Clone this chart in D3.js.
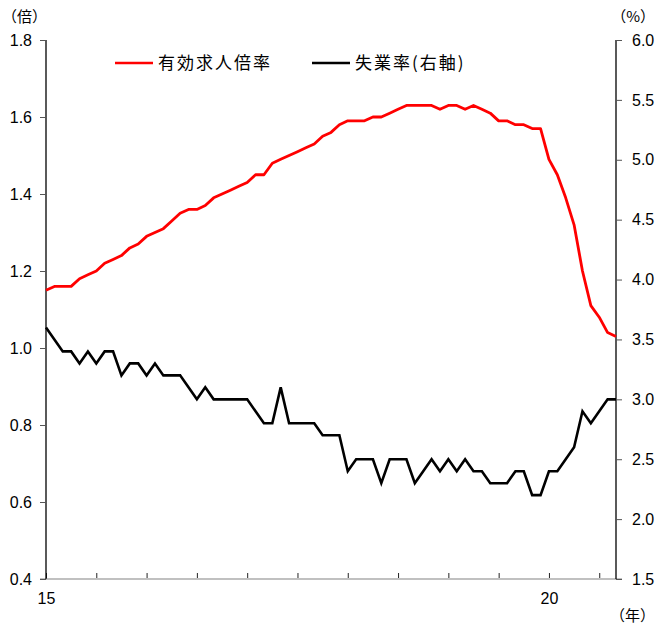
<!DOCTYPE html>
<html>
<head>
<meta charset="utf-8">
<script src="https://cdn.jsdelivr.net/npm/d3@7"></script>
<style>
  body { margin: 0; background: #fff; }
  svg { display: block; }
  .jp { font-family: "Noto Sans CJK JP", sans-serif; }
  .num { font-family: "Liberation Sans", Arial, sans-serif; }
</style>
</head>
<body>
<svg id="chart" width="655" height="632"></svg>
<script>
// ---- Data (monthly, Jan 2015 – Sep 2020) ----
const years = [2015, 2016, 2017, 2018, 2019, 2020];
const months = [];
years.forEach(y => { for (let m = 1; m <= 12; m++) { if (y === 2020 && m > 9) break; months.push(y + "-" + String(m).padStart(2, "0")); } });

// 有効求人倍率 (left axis, 倍)
const jobRatio = [
  1.15, 1.16, 1.16, 1.16, 1.18, 1.19, 1.20, 1.22, 1.23, 1.24, 1.26, 1.27,
  1.29, 1.30, 1.31, 1.33, 1.35, 1.36, 1.36, 1.37, 1.39, 1.40, 1.41, 1.42,
  1.43, 1.45, 1.45, 1.48, 1.49, 1.50, 1.51, 1.52, 1.53, 1.55, 1.56, 1.58,
  1.59, 1.59, 1.59, 1.60, 1.60, 1.61, 1.62, 1.63, 1.63, 1.63, 1.63, 1.62,
  1.63, 1.63, 1.62, 1.63, 1.62, 1.61, 1.59, 1.59, 1.58, 1.58, 1.57, 1.57,
  1.49, 1.45, 1.39, 1.32, 1.20, 1.11, 1.08, 1.04, 1.03
];
// 失業率 (right axis, %)
const unemployment = [
  3.6, 3.5, 3.4, 3.4, 3.3, 3.4, 3.3, 3.4, 3.4, 3.2, 3.3, 3.3,
  3.2, 3.3, 3.2, 3.2, 3.2, 3.1, 3.0, 3.1, 3.0, 3.0, 3.0, 3.0,
  3.0, 2.9, 2.8, 2.8, 3.1, 2.8, 2.8, 2.8, 2.8, 2.7, 2.7, 2.7,
  2.4, 2.5, 2.5, 2.5, 2.3, 2.5, 2.5, 2.5, 2.3, 2.4, 2.5, 2.4,
  2.5, 2.4, 2.5, 2.4, 2.4, 2.3, 2.3, 2.3, 2.4, 2.4, 2.2, 2.2,
  2.4, 2.4, 2.5, 2.6, 2.9, 2.8, 2.9, 3.0, 3.0
];

const leftTicks = [0.4, 0.6, 0.8, 1.0, 1.2, 1.4, 1.6, 1.8];
const rightTicks = [1.5, 2.0, 2.5, 3.0, 3.5, 4.0, 4.5, 5.0, 5.5, 6.0];
const xTickMonths = months.filter(m => m.endsWith("-01") || m.endsWith("-07"));
const xTickLabels = { "2015-01": "15", "2020-01": "20" };
const seriesNames = ["有効求人倍率", "失業率(右軸)"];
const seriesColors = ["#ff0000", "#000000"];

// ---- Layout ----
const L = 46, R = 616, T = 40, B = 579;
const svg = d3.select("#chart");

const x = d3.scalePoint().domain(months).range([L, R]);
const yL = d3.scaleLinear().domain([0.4, 1.8]).range([B, T]);
const yR = d3.scaleLinear().domain([1.5, 6.0]).range([B, T]);

// X axis (gray baseline, inward ticks)
const xAxis = svg.append("g").attr("transform", `translate(0,${B})`)
  .call(d3.axisBottom(x).tickValues(xTickMonths).tickSize(-6).tickPadding(14)
    .tickFormat(d => xTickLabels[d] || ""));
xAxis.select(".domain").remove();
xAxis.selectAll(".tick line").attr("stroke", "#222").attr("stroke-width", 1);
xAxis.selectAll(".tick text").attr("class", "num").attr("font-size", 16).attr("fill", "#000");
svg.append("line").attr("x1", L - 6).attr("x2", R + 6).attr("y1", B).attr("y2", B)
  .attr("stroke", "#c0c0c0").attr("stroke-width", 2);

// Left axis
const leftAxis = svg.append("g").attr("transform", `translate(${L},0)`)
  .call(d3.axisLeft(yL).tickValues(leftTicks).tickSize(6).tickPadding(8).tickFormat(d3.format(".1f")));
leftAxis.select(".domain").attr("d", `M0,${T}V${B}`).attr("stroke", "#000").attr("stroke-width", 1.3);
leftAxis.selectAll(".tick line").attr("stroke", "#555");
leftAxis.selectAll(".tick text").attr("class", "num").attr("font-size", 16).attr("fill", "#000");

// Right axis
const rightAxis = svg.append("g").attr("transform", `translate(${R},0)`)
  .call(d3.axisRight(yR).tickValues(rightTicks).tickSize(6).tickPadding(10).tickFormat(d3.format(".1f")));
rightAxis.select(".domain").attr("d", `M0,${T}V${B}`).attr("stroke", "#000").attr("stroke-width", 1.3);
rightAxis.selectAll(".tick line").attr("stroke", "#555");
rightAxis.selectAll(".tick text").attr("class", "num").attr("font-size", 16).attr("fill", "#000");

// Lines
const lineL = d3.line().x((d, i) => x(months[i])).y(d => yL(d));
const lineR = d3.line().x((d, i) => x(months[i])).y(d => yR(d));
svg.append("path").datum(unemployment).attr("d", lineR)
  .attr("fill", "none").attr("stroke", seriesColors[1]).attr("stroke-width", 2.6).attr("stroke-linejoin", "miter");
svg.append("path").datum(jobRatio).attr("d", lineL)
  .attr("fill", "none").attr("stroke", seriesColors[0]).attr("stroke-width", 2.8).attr("stroke-linejoin", "round");

// Unit labels
svg.append("text").attr("class", "jp").attr("x", 2).attr("y", 22).attr("font-size", 15).text("（倍）");
svg.append("text").attr("class", "jp").attr("x", 655).attr("y", 22).attr("text-anchor", "end").attr("font-size", 15).text("（%）");
svg.append("text").attr("class", "jp").attr("x", 655).attr("y", 621).attr("text-anchor", "end").attr("font-size", 15).text("（年）");

// Legend
const legendItems = [
  { x1: 115, x2: 153, tx: 158 },
  { x1: 312, x2: 350, tx: 355 }
];
legendItems.forEach((p, i) => {
  svg.append("line").attr("x1", p.x1).attr("x2", p.x2).attr("y1", 63).attr("y2", 63)
    .attr("stroke", seriesColors[i]).attr("stroke-width", 2.6);
  svg.append("text").attr("class", "jp").attr("x", p.tx).attr("y", 69)
    .attr("font-size", 17).attr("letter-spacing", 2).text(seriesNames[i]);
});
</script>
</body>
</html>
